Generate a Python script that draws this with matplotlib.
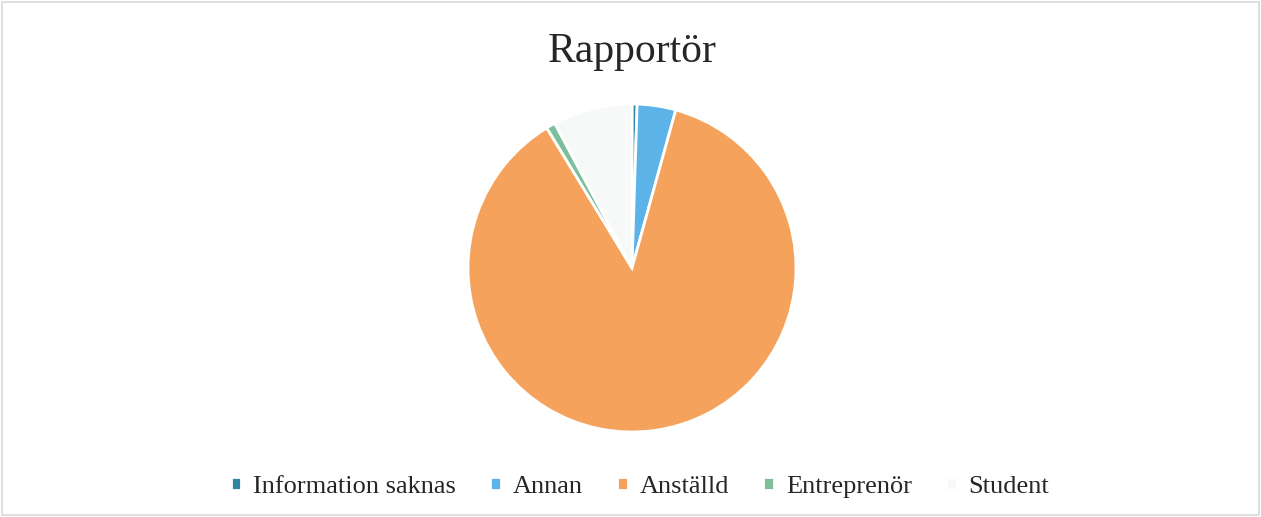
import matplotlib.pyplot as plt
from matplotlib.patches import Rectangle

plt.rcParams['font.family'] = ['Liberation Serif', 'DejaVu Serif']

# data
labels = ['Information saknas', 'Annan', 'Anställd', 'Entreprenör', 'Student']
values = [0.5, 3.8, 87.0, 0.9, 7.8]
colors = ['#2F86A3', '#5CB3E8', '#F5A25C', '#7DBF9B', '#F7F9F9']

W, H = 1261, 517
fig = plt.figure(figsize=(W / 100, H / 100), dpi=100, facecolor='white')

# light frame around the chart area
fig.patches.append(Rectangle((2 / W, 2 / H), 1 - 4 / W, 1 - 4 / H,
                             transform=fig.transFigure, fill=False,
                             edgecolor='#D9D9D9', linewidth=1.2))

cx, cy, r = 632, 268, 164
ax = fig.add_axes([(cx - r) / W, (H - cy - r) / H, 2 * r / W, 2 * r / H])
wedges, _ = ax.pie(values, colors=colors, startangle=90, counterclock=False,
                   radius=1.0,
                   wedgeprops=dict(edgecolor='white', linewidth=2))
ax.set_xlim(-1, 1)
ax.set_ylim(-1, 1)
ax.set_aspect('equal')
ax.axis('off')

fig.text(632 / W, 1 - 52 / H, 'Rapportör', ha='center', va='center',
         fontsize=30, color='#262626')

leg = fig.legend(wedges, labels, loc='center', bbox_to_anchor=(640 / W, 1 - 487 / H),
                 ncol=5, frameon=False, fontsize=19, handlelength=0.4,
                 handleheight=0.4, handletextpad=0.45, columnspacing=1.3,
                 labelcolor='#262626')

fig.savefig('out.png', dpi=100, facecolor='white')
